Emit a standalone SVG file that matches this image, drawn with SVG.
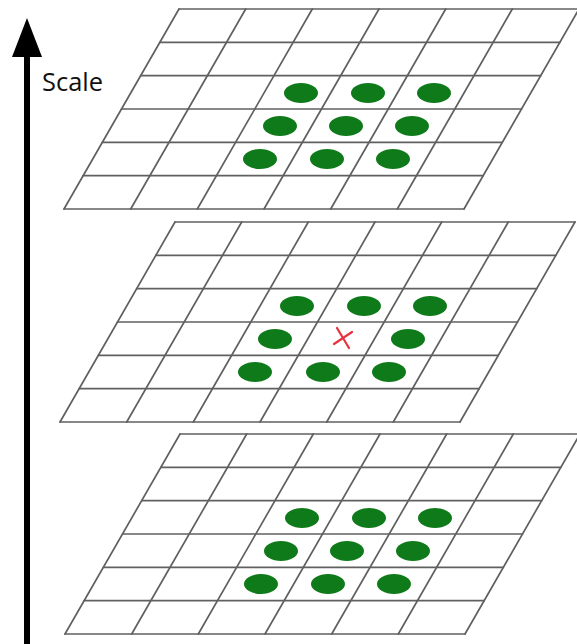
<svg xmlns="http://www.w3.org/2000/svg" xmlns:xlink="http://www.w3.org/1999/xlink" width="577" height="644" viewBox="0 0 577 644">
  <style>
    .grid line { stroke: #606060; stroke-width: 1.7; stroke-linecap: round; }
    .dot { fill: #0f7a1a; }
    .cross { stroke: #e8333f; stroke-width: 2.2; stroke-linecap: round; }
    .label { font-family: "Open Sans", "DejaVu Sans", sans-serif; font-size: 25px; fill: #111; }
  </style>
  <defs>
    <!-- 6x6 skewed grid: top edge 0..400 at y=0, bottom edge shifted left by 115 at y=200 -->
    <g id="grid" class="grid">
      <line x1="0" y1="0" x2="400" y2="0"/>
      <line x1="-19.2" y1="33.3" x2="380.8" y2="33.3"/>
      <line x1="-38.3" y1="66.7" x2="361.7" y2="66.7"/>
      <line x1="-57.5" y1="100" x2="342.5" y2="100"/>
      <line x1="-76.7" y1="133.3" x2="323.3" y2="133.3"/>
      <line x1="-95.8" y1="166.7" x2="304.2" y2="166.7"/>
      <line x1="-115" y1="200" x2="285" y2="200"/>
      <line x1="0" y1="0" x2="-115" y2="200"/>
      <line x1="66.7" y1="0" x2="-48.3" y2="200"/>
      <line x1="133.3" y1="0" x2="18.3" y2="200"/>
      <line x1="200" y1="0" x2="85" y2="200"/>
      <line x1="266.7" y1="0" x2="151.7" y2="200"/>
      <line x1="333.3" y1="0" x2="218.3" y2="200"/>
      <line x1="400" y1="0" x2="285" y2="200"/>
    </g>
    <ellipse id="blob" class="dot" rx="17" ry="10"/>
  </defs>

  <!-- scale axis -->
  <g id="axis">
    <line x1="27" y1="50" x2="27" y2="644" stroke="#000" stroke-width="6"/>
    <polygon points="27,18 42,57 12,57" fill="#000"/>
    <text class="label" x="42" y="91" textLength="61" lengthAdjust="spacingAndGlyphs">Scale</text>
  </g>

  <!-- upper layer -->
  <g id="layer-top" transform="translate(179,9)">
    <use xlink:href="#grid"/>
    <use xlink:href="#blob" x="122" y="84"/>
    <use xlink:href="#blob" x="189" y="84"/>
    <use xlink:href="#blob" x="255" y="84"/>
    <use xlink:href="#blob" x="101" y="117"/>
    <use xlink:href="#blob" x="167" y="117"/>
    <use xlink:href="#blob" x="233" y="117"/>
    <use xlink:href="#blob" x="81" y="150"/>
    <use xlink:href="#blob" x="148" y="150"/>
    <use xlink:href="#blob" x="214" y="150"/>
  </g>

  <!-- middle layer with the sample point -->
  <g id="layer-mid" transform="translate(175,222)">
    <use xlink:href="#grid"/>
    <use xlink:href="#blob" x="122" y="84"/>
    <use xlink:href="#blob" x="189" y="84"/>
    <use xlink:href="#blob" x="255" y="84"/>
    <use xlink:href="#blob" x="100" y="117"/>
    <use xlink:href="#blob" x="233" y="117"/>
    <use xlink:href="#blob" x="80" y="150"/>
    <use xlink:href="#blob" x="148" y="150"/>
    <use xlink:href="#blob" x="214" y="150"/>
    <g class="cross" transform="translate(168,116)">
      <line x1="-6" y1="-10" x2="6" y2="10"/>
      <line x1="-9" y1="6" x2="9" y2="-6"/>
    </g>
  </g>

  <!-- lower layer -->
  <g id="layer-bottom" transform="translate(180,434)">
    <use xlink:href="#grid"/>
    <use xlink:href="#blob" x="122" y="84"/>
    <use xlink:href="#blob" x="189" y="84"/>
    <use xlink:href="#blob" x="255" y="84"/>
    <use xlink:href="#blob" x="101" y="117"/>
    <use xlink:href="#blob" x="167" y="117"/>
    <use xlink:href="#blob" x="233" y="117"/>
    <use xlink:href="#blob" x="81" y="150"/>
    <use xlink:href="#blob" x="148" y="150"/>
    <use xlink:href="#blob" x="214" y="150"/>
  </g>
</svg>
